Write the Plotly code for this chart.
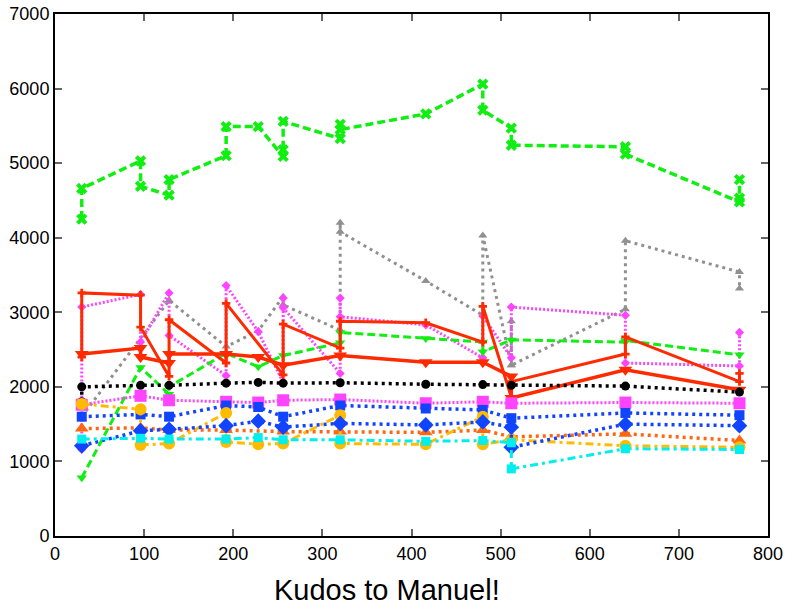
import plotly.graph_objects as go

# ---- data ----
green_x_x = [30, 30, 96, 96, 128, 128, 192, 192, 228, 256, 256, 256, 320, 320, 320, 416, 480, 480, 512, 512, 640, 640, 768, 768, 768]
green_x_y = [4250, 4660, 5030, 4690, 4570, 4780, 5100, 5490, 5490, 5090, 5180, 5560, 5330, 5520, 5450, 5660, 6060, 5710, 5470, 5240, 5220, 5120, 4480, 4530, 4780]

gray_x = [30, 128, 192, 228, 256, 256, 320, 320, 320, 416, 480, 480, 512, 512, 512, 640, 640, 768, 768]
gray_y = [1600, 3160, 2540, 2750, 3210, 3100, 2760, 4200, 4080, 3420, 2960, 4030, 2290, 2880, 2290, 3040, 3960, 3540, 3320]

redp_x = [30, 30, 96, 96, 128, 128, 192, 192, 256, 256, 320, 320, 416, 480, 480, 512, 512, 640, 640, 768, 768]
redp_y = [2400, 3260, 3230, 2800, 2140, 2900, 2320, 3120, 2160, 2840, 2520, 2880, 2860, 2600, 3080, 1860, 2070, 2440, 2670, 2070, 2180]

magd_x = [30, 30, 96, 96, 128, 128, 192, 192, 228, 256, 256, 256, 320, 320, 320, 416, 480, 480, 512, 512, 640, 640, 768, 768]
magd_y = [1160, 3070, 3240, 2600, 3260, 2690, 2150, 3360, 2740, 2060, 3190, 3060, 2180, 3190, 2940, 2830, 2390, 2950, 2390, 3070, 2960, 2320, 2280, 2730]

redt_x = [30, 96, 96, 128, 128, 192, 228, 256, 320, 416, 480, 512, 512, 640, 768]
redt_y = [2440, 2520, 2400, 2320, 2440, 2440, 2400, 2290, 2420, 2330, 2330, 2140, 1850, 2230, 1960]

greent_x = [30, 96, 128, 128, 192, 228, 256, 320, 320, 416, 480, 480, 512, 640, 640, 768]
greent_y = [780, 2260, 1900, 2000, 2450, 2270, 2420, 2590, 2730, 2650, 2600, 2470, 2630, 2600, 2620, 2430]

black_x = [30, 30, 96, 128, 192, 228, 256, 320, 416, 480, 512, 640, 768]
black_y = [1800, 2000, 2020, 2020, 2050, 2060, 2050, 2055, 2035, 2030, 2020, 2010, 1930]

mags_x = [30, 96, 128, 192, 228, 256, 320, 416, 480, 512, 640, 768]
mags_y = [1760, 1880, 1820, 1800, 1790, 1820, 1830, 1780, 1800, 1780, 1790, 1780]

blueu_x = [30, 96, 128, 192, 228, 256, 320, 416, 480, 512, 640, 768]
blueu_y = [1600, 1630, 1600, 1750, 1730, 1600, 1750, 1710, 1690, 1580, 1650, 1620]

yel_x = [30, 96, 96, 128, 192, 192, 228, 256, 320, 320, 416, 480, 480, 512, 640, 768]
yel_y = [1770, 1700, 1220, 1240, 1650, 1260, 1230, 1240, 1620, 1240, 1230, 1600, 1230, 1290, 1210, 1190]

bluel_x = [30, 96, 128, 192, 228, 256, 320, 416, 480, 512, 512, 640, 768]
bluel_y = [1210, 1410, 1430, 1480, 1540, 1460, 1510, 1490, 1530, 1460, 1190, 1500, 1480]

orange_x = [30, 96, 128, 192, 256, 320, 416, 480, 512, 640, 768]
orange_y = [1440, 1450, 1420, 1420, 1400, 1400, 1390, 1420, 1330, 1370, 1280]

cyan_x = [30, 96, 128, 192, 228, 256, 320, 416, 480, 512, 512, 640, 768]
cyan_y = [1300, 1310, 1300, 1300, 1320, 1290, 1290, 1270, 1280, 1250, 900, 1170, 1160]

x_ticks = [0, 100, 200, 300, 400, 500, 600, 700, 800]
y_ticks = [0, 1000, 2000, 3000, 4000, 5000, 6000, 7000]
title_text = "Kudos to Manuel!"

DOT = "3px,4px"
DASH = "8px,4px"
DASHDOT = "8px,4px,3px,4px"

series = [
    (gray_x, gray_y, "#909090", DOT, 3, "triangle-up", 8),
    (magd_x, magd_y, "#ff44ff", "2px,2px", 3, "diamond", 7),
    (greent_x, greent_y, "#11ee11", DASH, 3, "triangle-down", 9),
    (redp_x, redp_y, "#ff2a00", "solid", 3, "cross", 7),
    (redt_x, redt_y, "#ff2a00", "solid", 3.5, "triangle-down", 12),
    (black_x, black_y, "#000000", DOT, 3.5, "circle", 9),
    (mags_x, mags_y, "#ff44ff", "2px,2px", 3, "square", 12),
    (blueu_x, blueu_y, "#1144ff", DOT, 3.5, "square", 10),
    (orange_x, orange_y, "#ff6611", DOT, 3.5, "triangle-up", 12),
    (yel_x, yel_y, "#ffbb00", DASHDOT, 3, "circle", 12),
    (bluel_x, bluel_y, "#1144ff", DOT, 3.5, "diamond", 12),
    (cyan_x, cyan_y, "#00eeee", DASHDOT, 3, "square", 9),
    (green_x_x, green_x_y, "#11ee11", DASH, 3.5, "x", 10),
]

fig = go.Figure()
for xs, ys, col, dash, w, sym, sz in series:
    fig.add_trace(go.Scatter(
        x=xs, y=ys, mode="lines+markers",
        line=dict(color=col, dash=dash, width=w),
        marker=dict(symbol=sym, size=sz, color=col, line=dict(width=0)),
        showlegend=False,
    ))

FONT = "Liberation Sans, Arial, sans-serif"
axis_common = dict(
    showgrid=False, zeroline=False, showline=True, linecolor="black", linewidth=2,
    mirror="allticks", ticks="inside", ticklen=7, tickcolor="#666666", tickwidth=2,
    tickfont=dict(family=FONT, size=18, color="black"), automargin=False,
    ticklabeloverflow="allow",
)

fig.update_layout(
    width=786, height=606,
    margin=dict(l=55, r=18, t=14, b=70),
    plot_bgcolor="white", paper_bgcolor="white",
    xaxis=dict(range=[0, 800], tickvals=x_ticks, ticktext=[str(v) for v in x_ticks], **axis_common),
    yaxis=dict(range=[0, 7000], tickvals=y_ticks, ticktext=[str(v) for v in y_ticks], **axis_common),
    annotations=[dict(text=title_text, xref="paper", yref="paper", x=0.4656, y=-0.104,
                      xanchor="center", yanchor="middle", showarrow=False,
                      font=dict(family=FONT, size=29, color="black"))],
)

fig.write_html("out.html", config={"displayModeBar": False},
               post_script="document.body.style.margin='0';document.body.style.overflow='hidden';")
